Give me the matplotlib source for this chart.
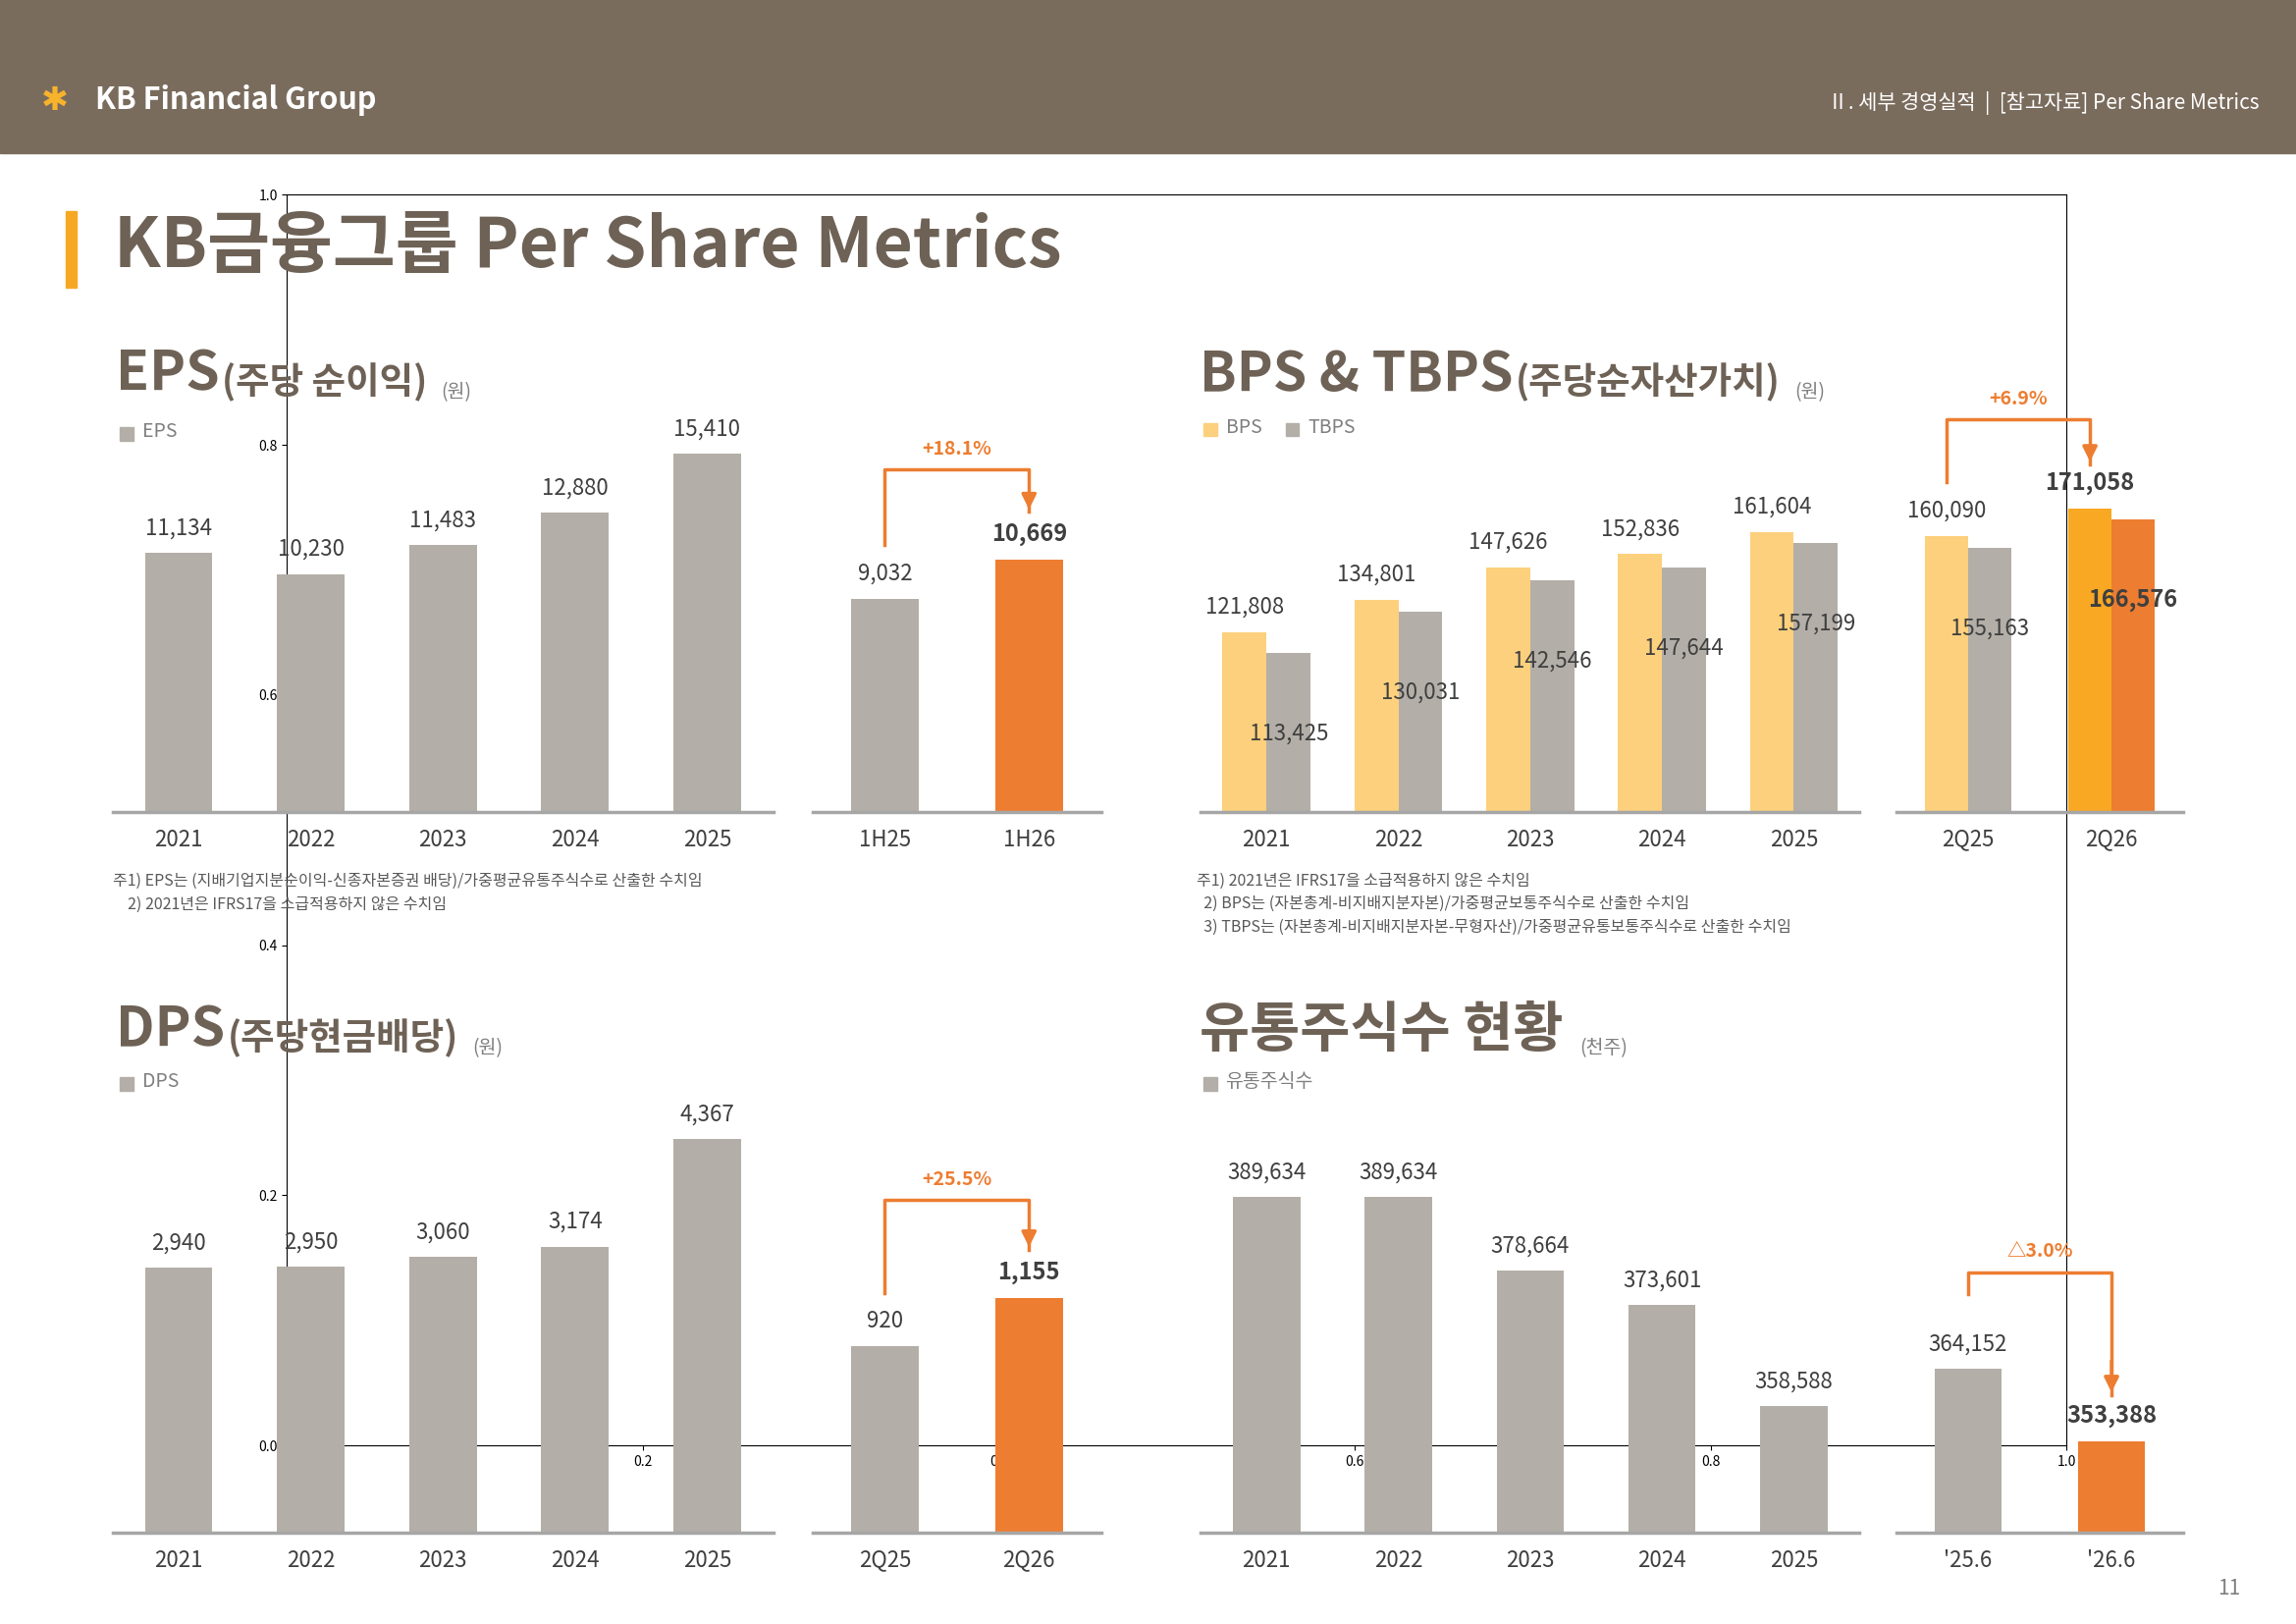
import matplotlib
matplotlib.use("Agg")
import matplotlib.pyplot as plt
from matplotlib.patches import Rectangle

plt.rcParams['font.family'] = ['Noto Sans CJK KR', 'DejaVu Sans']

# ---- data ----
years = ["2021", "2022", "2023", "2024", "2025"]
eps = [11134, 10230, 11483, 12880, 15410]
eps_half = ["1H25", "1H26"]
eps_half_vals = [9032, 10669]
bps = [121808, 134801, 147626, 152836, 161604]
tbps = [113425, 130031, 142546, 147644, 157199]
bps_q = ["2Q25", "2Q26"]
bps_q_vals = [160090, 171058]
tbps_q_vals = [155163, 166576]
dps = [2940, 2950, 3060, 3174, 4367]
dps_q = ["2Q25", "2Q26"]
dps_q_vals = [920, 1155]
shares = [389634, 389634, 378664, 373601, 358588]
shares_q = ["'25.6", "'26.6"]
shares_q_vals = [364152, 353388]

GRAY = "#b3aea7"
ORANGE = "#ed7d31"
LIGHT = "#fcd07c"
GOLD = "#f8a823"
TXT = "#3f3f3f"
BROWN = "#6e6256"
W, H = 1568, 1102

fig = plt.figure(figsize=(23.39, 16.54), dpi=100)


def fx(x):
    return x / W


def fy(y):
    return 1 - y / H


def make_ax(x0, x1, ytop, ybase, ylim, xlim):
    ax = fig.add_axes([fx(x0), fy(ybase), (x1 - x0) / W, (ybase - ytop) / H])
    ax.set_ylim(*ylim)
    ax.set_xlim(*xlim)
    for s in ["top", "right", "left"]:
        ax.spines[s].set_visible(False)
    ax.spines["bottom"].set_color("#a6a6a6")
    ax.spines["bottom"].set_linewidth(2.5)
    ax.set_yticks([])
    ax.tick_params(axis="x", length=0, labelsize=16, labelcolor=TXT, pad=12)
    ax.patch.set_alpha(0)
    return ax


def bar_labels(ax, xs, vals, bold_last=False, off=0, color=TXT):
    for i, (x, v) in enumerate(zip(xs, vals)):
        b = bold_last and i == len(vals) - 1
        ax.annotate(f"{v:,}", (x, v), xytext=(0, 10 + off), textcoords="offset points",
                    ha="center", va="bottom", fontsize=17 if b else 16,
                    fontweight="bold" if b else "normal", color=color)


def bracket(ax, x0, x1, y0, ytop, y1, label):
    ax.plot([x0, x0, x1, x1], [y0, ytop, ytop, y1], color=ORANGE, lw=2.5, clip_on=False)
    ax.annotate("", xy=(x1, y1), xytext=(x1, y1 + (ytop - y1) * 0.3),
                arrowprops=dict(arrowstyle="-|>", color=ORANGE, lw=2.5, mutation_scale=22),
                annotation_clip=False)
    ax.annotate(label, ((x0 + x1) / 2, ytop), xytext=(0, 8), textcoords="offset points",
                ha="center", va="bottom", color=ORANGE, fontsize=14, fontweight="bold",
                annotation_clip=False)


def section(x, y, big, mid, unit):
    t = fig.text(fx(x), fy(y), big, fontsize=40, color=BROWN, fontweight="bold", va="baseline")
    t2 = fig.text(0, 0, mid, fontsize=27, color=BROWN, fontweight="bold", va="baseline")
    t2.set_position((0, 0))
    a = fig.figure.text(0, 0, "")
    return t, mid, unit


def section_title(x, y, big, mid, unit):
    t = fig.text(fx(x), fy(y), big, fontsize=40, color=BROWN, fontweight="bold", va="baseline")
    t2 = plt.annotate(mid, xy=(1, 0), xycoords=t, xytext=(2, 0), textcoords="offset points",
                      fontsize=27, color=BROWN, fontweight="bold", va="bottom")
    plt.annotate(unit, xy=(1, 0), xycoords=t2, xytext=(10, 0), textcoords="offset points",
                 fontsize=14, color="#7f7f7f", va="bottom")


def legend_item(x, y, color, label):
    fig.patches.append(Rectangle((fx(x), fy(y + 6)), 9 / W, 9 / H, transform=fig.transFigure,
                                 color=color))
    fig.text(fx(x + 15), fy(y), label, fontsize=14, color="#7f7f7f", va="center")


# ---- header ----
fig.patches.append(Rectangle((0, fy(104)), 1, 104 / H, transform=fig.transFigure, color="#7a6c5d"))
fig.text(fx(28), fy(68), "✱", fontsize=24, color="#f7b32b", va="center")
fig.text(fx(65), fy(68), "KB Financial Group", fontsize=22, color="white", va="center",
         fontweight="bold")
fig.text(fx(1543), fy(70), "Ⅱ. 세부 경영실적  |  [참고자료] Per Share Metrics", fontsize=15,
         color="white", va="center", ha="right")
fig.patches.append(Rectangle((fx(45), fy(195)), 7 / W, 52 / H, transform=fig.transFigure,
                             color="#f7a823"))
fig.text(fx(78), fy(168), "KB금융그룹 Per Share Metrics", fontsize=50, color=BROWN,
         fontweight="bold", va="center")
fig.text(fx(1530), fy(1078), "11", fontsize=15, color="#7f7f7f", ha="right", va="center")

# ---- EPS ----
section_title(79, 265, "EPS", "(주당 순이익)", "(원)")
legend_item(82, 293, GRAY, "EPS")
ax = make_ax(77, 528, 280, 551, (0, 17185), (-0.5, 4.5))
x = range(len(years))
ax.bar(x, eps, width=0.51, color=GRAY)
ax.set_xticks(list(x), years)
bar_labels(ax, x, eps)
ax = make_ax(555, 752, 280, 551, (0, 16906), (-0.5, 1.5))
ax.bar([0, 1], eps_half_vals, width=0.47, color=[GRAY, ORANGE])
ax.set_xticks([0, 1], eps_half)
bar_labels(ax, [0, 1], eps_half_vals, bold_last=True)
bracket(ax, 0, 1, 11300, 14500, 12700, "+18.1%")
fig.text(fx(77), fy(598), "주1) EPS는 (지배기업지분순이익-신종자본증권 배당)/가중평균유통주식수로 산출한 수치임",
         fontsize=11.5, color="#595959", va="center")
fig.text(fx(87), fy(614), "2) 2021년은 IFRS17을 소급적용하지 않은 수치임", fontsize=11.5,
         color="#595959", va="center")

# ---- BPS & TBPS ----
section_title(819, 265, "BPS & TBPS", "(주당순자산가치)", "(원)")
legend_item(822, 290, LIGHT, "BPS")
legend_item(878, 290, GRAY, "TBPS")
ax = make_ax(820, 1270, 280, 551, (50426, 208996), (-0.5, 4.5))
xb = [i - 0.167 for i in x]
xt = [i + 0.167 for i in x]
ax.bar(xb, bps, width=0.334, color=LIGHT)
ax.bar(xt, tbps, width=0.334, color=GRAY)
ax.set_xticks(list(x), years)
bar_labels(ax, xb, bps)
for xi, v in zip(xt, tbps):
    ax.text(xi, v - 32000, f"{v:,}", ha="center", va="center", fontsize=16, color=TXT)
ax = make_ax(1295, 1491, 280, 551, (50426, 208996), (-0.5, 1.5))
ax.bar([-0.15, 0.85], bps_q_vals, width=0.3, color=[LIGHT, GOLD])
ax.bar([0.15, 1.15], tbps_q_vals, width=0.3, color=[GRAY, ORANGE])
ax.set_xticks([0, 1], bps_q)
bar_labels(ax, [-0.15, 0.85], bps_q_vals, bold_last=True)
for i, (xi, v) in enumerate(zip([0.15, 1.15], tbps_q_vals)):
    ax.text(xi, v - 32000, f"{v:,}", ha="center", va="center", fontsize=17 if i else 16,
            fontweight="bold" if i else "normal", color=TXT)
bracket(ax, -0.15, 0.85, 181500, 206500, 188500, "+6.9%")
for i, s in enumerate(["주1) 2021년은 IFRS17을 소급적용하지 않은 수치임",
                       "  2) BPS는 (자본총계-비지배지분자본)/가중평균보통주식수로 산출한 수치임",
                       "  3) TBPS는 (자본총계-비지배지분자본-무형자산)/가중평균유통보통주식수로 산출한 수치임"]):
    fig.text(fx(817), fy(598 + 15.5 * i), s, fontsize=11.5, color="#595959", va="center")

# ---- DPS ----
section_title(79, 710, "DPS", "(주당현금배당)", "(원)")
legend_item(82, 734, GRAY, "DPS")
ax = make_ax(77, 752 - 224, 740, 1040, (0, 4907), (-0.5, 4.5))
ax.bar(x, dps, width=0.51, color=GRAY)
ax.set_xticks(list(x), years)
bar_labels(ax, x, dps)
ax = make_ax(555, 752, 740, 1040, (0, 2179), (-0.5, 1.5))
ax.bar([0, 1], dps_q_vals, width=0.47, color=[GRAY, ORANGE])
ax.set_xticks([0, 1], dps_q)
bar_labels(ax, [0, 1], dps_q_vals, bold_last=True)
bracket(ax, 0, 1, 1180, 1640, 1395, "+25.5%")

# ---- shares ----
section_title(819, 710, "유통주식수 현황", "", "(천주)")
legend_item(822, 734, GRAY, "유통주식수")
ax = make_ax(820, 1270, 740, 1040, (339900, 405400), (-0.5, 4.5))
ax.bar(x, shares, width=0.51, color=GRAY)
ax.set_xticks(list(x), years)
bar_labels(ax, x, shares)
ax = make_ax(1295, 1491, 740, 1040, (339900, 405400), (-0.5, 1.5))
ax.bar([0, 1], shares_q_vals, width=0.47, color=[GRAY, ORANGE])
ax.set_xticks([0, 1], shares_q)
bar_labels(ax, [0, 1], shares_q_vals, bold_last=True)
bracket(ax, 0, 1, 375200, 378500, 360300, "△3.0%")

fig.savefig("out.png", dpi=100)
